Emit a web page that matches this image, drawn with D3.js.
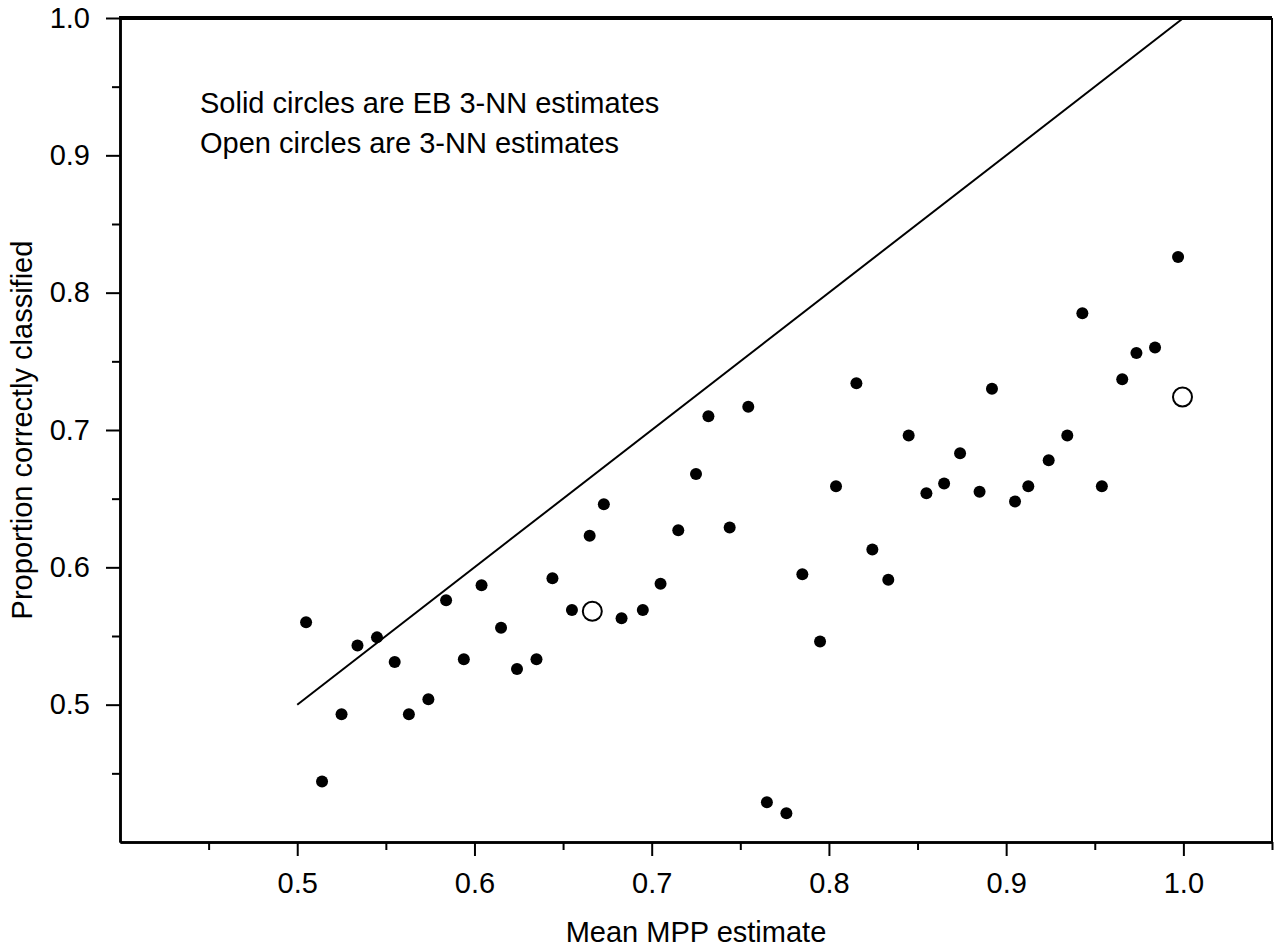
<!DOCTYPE html>
<html>
<head>
<meta charset="utf-8">
<script src="https://cdn.jsdelivr.net/npm/d3@7"></script>
<style>
  html, body { margin: 0; padding: 0; background: #fff; }
  svg { display: block; }
  text { font-family: "Liberation Sans", Arial, sans-serif; fill: #000; }
</style>
</head>
<body>
<svg id="chart" width="1277" height="947"></svg>
<script>
// ---- data ----
const ebMpp = [0.505,0.514,0.525,0.534,0.545,0.555,0.563,0.574,0.584,0.594,0.604,0.615,0.624,0.635,0.644,0.655,0.665,0.683,0.673,
  0.695,0.705,0.785,0.8245,0.8335,0.795,0.765,0.776,
  0.732,0.7545,0.725,0.715,0.744,0.8155,0.804,0.845,0.874,0.855,0.865,0.885,0.892,0.905,0.9125,0.924,0.9345,0.943,0.954,0.9655,0.9735,0.984,0.997];
const ebProp = [0.560,0.444,0.493,0.543,0.549,0.531,0.493,0.504,0.576,0.533,0.587,0.556,0.526,0.533,0.592,0.569,0.623,0.563,0.646,
  0.569,0.588,0.595,0.613,0.591,0.546,0.429,0.421,
  0.710,0.717,0.668,0.627,0.629,0.734,0.659,0.696,0.683,0.654,0.661,0.655,0.730,0.648,0.659,0.678,0.696,0.785,0.659,0.737,0.756,0.760,0.826];
const nnMpp = [0.6665,0.9995];
const nnProp = [0.568,0.724];
const refLine = [0.5, 1.0];
const xMajorTicks = [0.5,0.6,0.7,0.8,0.9,1.0];
const xMinorTicks = [0.45,0.55,0.65,0.75,0.85,0.95,1.05];
const yMajorTicks = [0.5,0.6,0.7,0.8,0.9,1.0];
const yMinorTicks = [0.45,0.55,0.65,0.75,0.85,0.95];
const legendLines = ["Solid circles are EB 3-NN estimates","Open circles are 3-NN estimates"];
const xTitle = "Mean MPP estimate";
const yTitle = "Proportion correctly classified";

// ---- layout ----
const svg = d3.select("#chart");
const L = 120, R = 1272, T = 18, B = 842;
const x = d3.scaleLinear().domain([0.4, 1.05]).range([L, R]);
const y = d3.scaleLinear().domain([0.4, 1.0]).range([B, T]);
const FS = 29;

// axes
function styleAxis(g) {
  g.selectAll("path.domain").attr("stroke", "#000").attr("stroke-width", 2.5);
  g.selectAll(".tick line").attr("stroke", "#000").attr("stroke-width", 2);
  g.selectAll("text").style("font-size", FS + "px").attr("fill", "#000")
    .style("font-family", '"Liberation Sans", Arial, sans-serif');
}
svg.append("g").attr("transform", `translate(0,${B})`)
  .call(d3.axisBottom(x).tickValues(xMinorTicks).tickSize(8).tickSizeOuter(0).tickFormat(""))
  .call(styleAxis);
svg.append("g").attr("transform", `translate(0,${B})`)
  .call(d3.axisBottom(x).tickValues(xMajorTicks).tickSize(14).tickSizeOuter(0).tickPadding(16).tickFormat(d3.format(".1f")))
  .call(styleAxis);
svg.append("g").attr("transform", `translate(${L},0)`)
  .call(d3.axisLeft(y).tickValues(yMinorTicks).tickSize(8).tickSizeOuter(0).tickFormat(""))
  .call(styleAxis);
svg.append("g").attr("transform", `translate(${L},0)`)
  .call(d3.axisLeft(y).tickValues(yMajorTicks).tickSize(14).tickSizeOuter(0).tickPadding(16).tickFormat(d3.format(".1f")))
  .call(styleAxis);

// top & right frame
svg.append("line").attr("x1", L - 1).attr("x2", R).attr("y1", T).attr("y2", T)
  .attr("stroke", "#000").attr("stroke-width", 4);
svg.append("line").attr("x1", R).attr("x2", R).attr("y1", T).attr("y2", B)
  .attr("stroke", "#000").attr("stroke-width", 2);

// reference line y = x
svg.append("line")
  .attr("x1", x(refLine[0])).attr("y1", y(refLine[0]))
  .attr("x2", x(refLine[1])).attr("y2", y(refLine[1]))
  .attr("stroke", "#000").attr("stroke-width", 2);

// solid points
svg.append("g").selectAll("circle").data(ebMpp.map((d, i) => [d, ebProp[i]])).join("circle")
  .attr("cx", d => x(d[0])).attr("cy", d => y(d[1])).attr("r", 6).attr("fill", "#000");
// open points
svg.append("g").selectAll("circle").data(nnMpp.map((d, i) => [d, nnProp[i]])).join("circle")
  .attr("cx", d => x(d[0])).attr("cy", d => y(d[1])).attr("r", 9.5)
  .attr("fill", "#fff").attr("stroke", "#000").attr("stroke-width", 2);

// legend text
svg.append("g").selectAll("text").data(legendLines).join("text")
  .attr("x", 200).attr("y", (d, i) => 113 + i * 40)
  .style("font-size", FS + "px").text(d => d);

// titles
svg.append("text").attr("x", (L + R) / 2).attr("y", 942).attr("text-anchor", "middle")
  .style("font-size", FS + "px").text(xTitle);
svg.append("text").attr("transform", `translate(32,${(T + B) / 2}) rotate(-90)`).attr("text-anchor", "middle")
  .style("font-size", FS + "px").text(yTitle);
</script>
</body>
</html>
